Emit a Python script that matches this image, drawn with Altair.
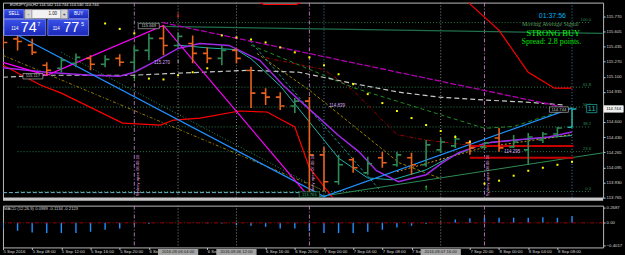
import altair as alt
import pandas as pd

# ---------------------------------------------------------------- data
# bar index 0 = 5 Sep 2016 04:00, one bar = 2 hours (EURJPY H2)
bar_idx = list(range(40))
opens = [115.50, 115.52, 115.45, 115.227, 115.194, 115.249, 115.304, 115.238, 115.304, 115.260,
         115.392, 115.525, 115.447, 115.469, 115.359, 115.304, 115.392, 115.17, 114.919, 114.875,
         114.776, 114.831, 114.236, 113.939, 114.181, 114.038, 114.203, 114.126, 114.203, 114.126,
         114.291, 114.335, 114.368, 114.324, 114.423, 114.324, 114.291, 114.401, 114.467, 114.542]
highs = [115.56, 115.56, 115.52, 115.26, 115.315, 115.359, 115.337, 115.337, 115.348, 115.447,
         115.58, 115.669, 115.591, 115.558, 115.425, 115.447, 115.414, 115.21, 114.974, 114.93,
         114.864, 114.875, 114.324, 114.236, 114.203, 114.214, 114.269, 114.269, 114.258, 114.401,
         114.423, 114.456, 114.401, 114.379, 114.533, 114.456, 114.478, 114.489, 114.544, 114.744]
lows = [115.414, 115.392, 115.34, 115.117, 115.15, 115.205, 115.172, 115.205, 115.216, 115.15,
        115.282, 115.337, 115.425, 115.249, 115.249, 115.227, 115.249, 114.754, 114.787, 114.732,
        114.698, 113.765, 113.829, 113.906, 114.038, 114.016, 114.093, 114.104, 114.016, 114.104,
        114.258, 114.313, 114.236, 114.291, 114.269, 114.313, 114.126, 114.368, 114.434, 114.540]
closes = [115.48, 115.49, 115.37, 115.172, 115.282, 115.315, 115.238, 115.293, 115.26, 115.392,
          115.525, 115.447, 115.547, 115.359, 115.304, 115.392, 115.304, 114.919, 114.875, 114.776,
          114.831, 114.236, 113.939, 114.126, 114.093, 114.137, 114.148, 114.236, 114.126, 114.346,
          114.379, 114.412, 114.313, 114.368, 114.313, 114.379, 114.434, 114.467, 114.533, 114.744]

macd_hist = [-0.10, -0.14, -0.17, -0.18, -0.18, -0.18, -0.157, -0.12, -0.10, -0.03,
             -0.02, 0.005, 0.003, 0.005, -0.005, -0.01, -0.04, -0.05, -0.07, -0.10,
             -0.10, -0.145, -0.18, -0.18, -0.18, -0.157, -0.12, -0.08, -0.05, -0.02,
             0.02, 0.06, 0.08, 0.09, 0.09, 0.09, 0.09, 0.10, 0.09, 0.12]

sar_i = [7, 8, 9, 10, 11, 12, 13, 14, 15, 16, 17, 18, 19, 20, 21, 22, 23, 24, 25, 26, 27, 28, 29,
         30, 31, 32, 33, 34, 35, 36, 37, 38, 39]
sar_p = [115.69, 115.63, 115.58, 115.08, 115.07, 115.117, 115.15, 115.194, 115.558, 115.535,
         115.513, 115.48, 115.425, 115.37, 115.315, 115.227, 115.128, 115.018, 114.908, 114.809,
         114.721, 114.643, 114.566, 114.50, 114.434, 114.379, 113.917, 113.95, 114.005, 114.06,
         114.093, 114.126, 114.159]

# indicator / object lines: (bar index, price)
blue_i, blue_p = [0, 22, 39], [115.646, 113.774, 114.754]
zz_i, zz_p = [0, 3, 11, 21], [115.26, 115.117, 115.669, 113.765]
purple_i = [0, 3, 6, 8, 9, 10.3, 12, 13.5, 15.5, 17.6, 19.2, 20.3, 21.7, 23, 24.4, 25.6, 27.1,
            29, 30.1, 31.2, 33.1, 35.1, 37.4, 39]
purple_p = [115.20, 115.15, 115.117, 115.106, 115.15, 115.26, 115.414, 115.469, 115.447, 115.282,
            115.007, 114.842, 114.64, 114.45, 114.269, 114.06, 113.939, 114.016, 114.148, 114.258,
            114.368, 114.401, 114.434, 114.489]
grey_i = [0, 2.8, 8.9, 11.9, 16.9, 20.3, 23.9, 27.1, 29.9, 33.1, 35.8, 38.5]
grey_p = [115.095, 115.117, 115.117, 115.139, 115.172, 115.15, 115.029, 114.93, 114.875, 114.842,
          114.82, 114.787]
uptr_i, uptr_p = [10.9, 38.7], [115.701, 114.754]
blow_i = [0, 2.6, 4, 8.2, 10.8, 11.7, 13.5, 16.2, 18.1, 20, 21, 22.6]
blow_p = [115.227, 115.007, 114.919, 114.588, 114.566, 114.621, 114.643, 114.721, 114.71,
          114.544, 114.093, 113.762]
bup1_i, bup1_p = [17.6, 17.9, 20.1, 20.4], [115.921, 115.90, 115.90, 115.921]
bup2_i = [31.9, 34, 36, 37.8, 39]
bup2_p = [115.921, 115.613, 115.15, 114.974, 114.974]
gtop_i, gtop_p = [10.8, 41.1], [115.657, 115.580]
glow_i, glow_p = [21.7, 41.1], [113.774, 114.258]
ol1_i, ol1_p = [0, 21.7], [115.337, 113.862]
ol2_i, ol2_p = [17.4, 21, 27.15, 29.9], [115.359, 114.952, 114.148, 113.98]
gd_i, gd_p = [4, 22.4], [115.37, 113.796]
td_i, td_p = [16.9, 25.8], [115.502, 113.851]
dr_i = [18, 22, 24, 26, 27, 29, 32]
dr_p = [115.31, 115.18, 114.95, 114.62, 114.46, 114.40, 114.34]
mteal_i = [12, 14, 16, 17, 19, 21, 23, 25, 26.7, 29, 30.6, 33.1, 36, 39]
mteal_p = [115.45, 115.42, 115.40, 115.30, 115.0, 114.6, 114.2, 113.98, 113.96, 114.07, 114.21,
           114.37, 114.41, 114.45]
mor_i, mor_p = [27, 33, 39], [114.05, 114.32, 114.46]
mgd_i = [17, 20, 24, 28, 33, 35, 39]
mgd_p = [115.45, 115.25, 114.98, 114.78, 114.53, 114.55, 114.76]
cy_i, cy_p = [0, 21], [113.818, 113.818]

fib_levels = [115.700, 114.985, 114.765, 114.545, 114.271, 113.830]
fib_names = ["100.0", "61.8", "50.0", "38.2", "23.6", "0.0"]
fib_start = [9, 1, 1, 1, 1, 1]

red_h = [114.335, 114.203]

vl_i = [9, 12, 16, 21, 22, 30, 33, 39]
vl_kind = ["session", "grid", "grid", "session", "blue", "grid", "session", "blue"]
session_i = [9, 21, 33]
session_txt = ["Sydney open 06.09.16", "Sydney open 07.09.16", "Sydney open 08.09.16"]

# time-axis labels (those at 6 Sep 04:00, 6 Sep 12:00 and 7 Sep 16:00 sit under the date boxes)
x_tick_idx = [0, 2, 4, 6, 8, 10, 14, 18, 20, 22, 24, 26, 28, 32, 34, 36, 38]
x_tick_lab = ["5 Sep 2016", "5 Sep 08:00", "5 Sep 12:00", "5 Sep 16:00", "5 Sep 20:00",
              "6 Sep 00:00", "6 Sep 08:00", "6 Sep 16:00", "6 Sep 20:00", "7 Sep 00:00",
              "7 Sep 04:00", "7 Sep 08:00", "7 Sep 12:00", "7 Sep 20:00", "8 Sep 00:00",
              "8 Sep 04:00", "8 Sep 08:00"]
date_box_i = [12, 16, 30]
date_box_txt = ["2016.09.06 04:00", "2016.09.06 12:00", "2016.09.07 16:00"]
price_ticks = [115.770, 115.605, 115.435, 115.270, 115.100, 114.935, 114.600, 114.430,
               114.265, 114.095, 113.930, 113.765]
macd_ticks = [0.2687, 0.0, -0.4017]

# ---------------------------------------------------------------- layout
W, HM, HD = 603, 196, 42
xs = alt.Scale(domain=[0, 41.13], nice=False, zero=False)
ys = alt.Scale(domain=[113.762, 115.921], nice=False, zero=False)
ds = alt.Scale(domain=[-0.431, 0.302], nice=False, zero=False)
F = "Liberation Sans"
SF = "Liberation Serif"
one = pd.DataFrame({"k": [0.0], "i": [1.0], "p": [115.0]})

AXY = alt.Axis(orient="right", values=price_ticks, format=".3f", title=None)
lab_map = "{" + ",".join("'%d':'%s'" % (v, s) for v, s in zip(x_tick_idx, x_tick_lab)) + "}"
lab_expr = lab_map + "[toString(round(datum.value))]"
AXX = alt.Axis(orient="bottom", values=x_tick_idx, labelExpr=lab_expr, labelAlign="left",
               labelBaseline="top", labelFlush=False, labelOverlap=False, title=None,
               labelPadding=0)
AXD = alt.Axis(orient="right", values=macd_ticks, title=None,
               labelExpr="datum.value == 0 ? '0.00' : format(datum.value, '.4f')")


def X(f):
    return alt.X(f, scale=xs, axis=None, title=None)


def Y(f):
    return alt.Y(f, scale=ys, axis=AXY, title=None)


def XD(f):
    return alt.X(f, scale=xs, axis=AXX, title=None)


def YD(f):
    return alt.Y(f, scale=ds, axis=AXD, title=None)


def ptext(x, y, s, size, color, font=F, align="left", weight="normal", baseline="middle"):
    return alt.Chart(one).mark_text(text=s, fontSize=size, color=color, font=font, align=align,
                                    baseline=baseline, fontWeight=weight).encode(
        x=alt.value(x), y=alt.value(y))


def prect(x1, y1, x2, y2, fill, stroke=None, sw=0.8):
    kw = {"fill": fill}
    if stroke:
        kw.update(stroke=stroke, strokeWidth=sw)
    return alt.Chart(one).mark_rect(**kw).encode(
        x=alt.value(x1), x2=alt.value(x2), y=alt.value(y1), y2=alt.value(y2))


def line(ii, pp, color, width=1.0, dash=None):
    kw = dict(color=color, strokeWidth=width, clip=True)
    if dash:
        kw["strokeDash"] = dash
    return alt.Chart(pd.DataFrame({"i": ii, "p": pp})).mark_line(**kw).encode(
        x=X("i:Q"), y=Y("p:Q"))


L = []

# fib levels
fib = pd.DataFrame({"lv": fib_levels, "nm": fib_names, "s": fib_start, "e": [40.3] * 6})
L.append(alt.Chart(fib).mark_rule(color="#2e8b57", strokeWidth=0.9, strokeDash=[1, 2]).encode(
    x=X("s:Q"), x2="e:Q", y=Y("lv:Q")))
L.append(alt.Chart(fib).mark_text(color="#2e8b57", fontSize=4.2, font=F, align="right", dy=-2.5).encode(
    x=X("e:Q"), y=Y("lv:Q"), text="nm:N"))

# vertical object lines
vl = pd.DataFrame({"i": vl_i, "kind": vl_kind})
vstyle = {"session": ("#b070b0", [4, 2, 1, 2]), "grid": ("#8c8c8c", [1, 2]), "blue": ("#4682b4", [1, 2])}
for kd, (c, d) in vstyle.items():
    L.append(alt.Chart(vl[vl.kind == kd]).mark_rule(color=c, strokeDash=d, strokeWidth=1).encode(x=X("i:Q")))

# diagonal / indicator lines
L.append(line(cy_i, cy_p, "#6fb7c7", 1, [4, 2]))
L.append(line(ol1_i, ol1_p, "#b89a00", 0.8, [3, 2, 1, 2]))
L.append(line(ol2_i, ol2_p, "#c8a000", 0.8, [3, 2]))
L.append(line(gd_i, gd_p, "#2e8b57", 1, [1, 2]))
L.append(line(td_i, td_p, "#20b2aa", 0.8, [3, 2]))
L.append(line(dr_i, dr_p, "#a00000", 1, [4, 2, 1, 2]))
L.append(line(mgd_i, mgd_p, "#228b22", 1, [4, 3]))
L.append(line(gtop_i, gtop_p, "#1f6f4a", 1.3))
L.append(line(glow_i, glow_p, "#2e8b57", 1))
L.append(line(grey_i, grey_p, "#c8c8c8", 1.2, [5, 3]))
L.append(line(uptr_i, uptr_p, "#b000b0", 1.3, [6, 2]))
L.append(line(blow_i, blow_p, "#ff0000", 1.2))
L.append(line(bup1_i, bup1_p, "#ff0000", 1.2))
L.append(line(bup2_i, bup2_p, "#ff0000", 1.2))
L.append(line(mteal_i, mteal_p, "#20b2aa", 1))
L.append(line(mor_i, mor_p, "#d2901e", 1, [2, 2]))
L.append(line(purple_i, purple_p, "#a028e8", 1.5))
L.append(line(blue_i, blue_p, "#1e90ff", 1.3))
L.append(line(zz_i, zz_p, "#ff00ff", 1.2))

rh = pd.DataFrame({"p": red_h, "a": [32, 32], "b": [39.1, 39.1]})
L.append(alt.Chart(rh).mark_rule(color="#c80000", strokeWidth=2).encode(x=X("a:Q"), x2="b:Q", y=Y("p:Q")))

# OHLC bars
bars = pd.DataFrame({"i": bar_idx, "o": opens, "h": highs, "l": lows, "c": closes})
bars["kind"] = ["up" if c > o else "down" for o, c in zip(opens, closes)]
bars.loc[39, "kind"] = "last"
bars["il"] = bars["i"] - 0.3
bars["ir"] = bars["i"] + 0.3
col = alt.Color("kind:N", scale=alt.Scale(domain=["up", "down", "last"],
                                          range=["#2e8b57", "#e8621c", "#20b2aa"]), legend=None)
bb = alt.Chart(bars)
L.append(bb.mark_rule(strokeWidth=1.6, clip=True).encode(x=X("i:Q"), y=Y("l:Q"), y2="h:Q", color=col))
L.append(bb.mark_rule(strokeWidth=1.6, clip=True).encode(x=X("il:Q"), x2="i:Q", y=Y("o:Q"), color=col))
L.append(bb.mark_rule(strokeWidth=1.6, clip=True).encode(x=X("i:Q"), x2="ir:Q", y=Y("c:Q"), color=col))

# parabolic SAR dots
sar = pd.DataFrame({"i": sar_i, "p": sar_p})
L.append(alt.Chart(sar).mark_square(size=4, color="#ffff00", opacity=1).encode(x=X("i:Q"), y=Y("p:Q")))

# arrows
arr = pd.DataFrame({"i": [12, 9, 29, 12], "p": [115.78, 115.085, 113.873, 115.27],
                    "c": ["#ff2020", "#30e030", "#30e030", "#ffffff"],
                    "a": [180, 0, 0, 0], "s": [30, 30, 30, 12]})
for _, r in arr.iterrows():
    L.append(alt.Chart(pd.DataFrame({"i": [r.i], "p": [r.p]})).mark_point(
        shape="arrow", filled=True, color=r.c, size=r.s, angle=int(r.a), opacity=1).encode(
        x=X("i:Q"), y=Y("p:Q")))

# session texts (vertical)
ses = pd.DataFrame({"i": session_i, "t": session_txt, "p": [113.778] * 3})
L.append(alt.Chart(ses).mark_text(angle=270, align="left", baseline="top", dy=1.5, fontSize=4.2,
                                  font=F, color="#e0a0e0").encode(x=X("i:Q"), y=Y("p:Q"), text="t:N"))

# price labels with boxes
boxes = pd.DataFrame({
    "i": [9.99, 2.05, 38.1, 21.0, 40.35, 41.85],
    "p": [115.662, 115.106, 114.737, 113.796, 114.748, 114.744],
    "hw": [0.72, 0.68, 0.65, 0.7, 0.35, 0.66],
    "hh": [0.03, 0.03, 0.03, 0.03, 0.045, 0.036],
    "t": ["115.669", "115.117", "114.744", "113.765", "11", "114.744"],
    "grp": ["g", "g", "g", "n", "t", "w"],
})
boxes["i1"] = boxes.i - boxes.hw
boxes["i2"] = boxes.i + boxes.hw
boxes["p1"] = boxes.p - boxes.hh
boxes["p2"] = boxes.p + boxes.hh
bstyle = {"g": ("#000000", "#b0b0b0", "#c8c8c8", 4.2),
          "n": ("#000000", "#2e8b57", "#3cb371", 4.2),
          "t": ("#000000", "#20b2aa", "#20b2aa", 7.5),
          "w": ("#f0f0f0", "#f0f0f0", "#000000", 4.2)}
for g, (fill, stroke, tc, fs) in bstyle.items():
    sub = boxes[boxes.grp == g]
    L.append(alt.Chart(sub).mark_rect(fill=fill, stroke=stroke, strokeWidth=0.7).encode(
        x=X("i1:Q"), x2="i2:Q", y=Y("p1:Q"), y2="p2:Q"))
    L.append(alt.Chart(sub).mark_text(color=tc, fontSize=fs, font=F).encode(
        x=X("i:Q"), y=Y("p:Q"), text="t:N"))

pink = pd.DataFrame({"i": [10.9, 22.9, 34.9], "p": [115.25, 114.776, 114.269],
                     "t": ["115.270", "114.839", "114.295"]})
L.append(alt.Chart(pink).mark_text(color="#d8a8f8", fontSize=4.5, font=F).encode(
    x=X("i:Q"), y=Y("p:Q"), text="t:N"))

# top-right signal panel
L.append(ptext(552, 13, "01:37:56", 7, "#00b0f0", align="center"))
L.append(ptext(550, 22, "Moving Average Signal", 6, "#5a9a5a", font=SF, align="center"))
L.append(ptext(553, 31, "STRONG BUY", 8.5, "#00ff00", font=SF, align="center"))
L.append(ptext(551, 40, "Spread: 2.8 points.", 8, "#00e000", font=SF, align="center"))

# one-click trading panel
blue_grad = alt.Gradient(gradient="linear", stops=[alt.GradientStop(color="#3a50e8", offset=0),
                                                    alt.GradientStop(color="#1a28b8", offset=1)],
                         x1=0, x2=0, y1=0, y2=1)
L.append(ptext(7, 0.8, "EURJPY,pro,H2  114.542 114.744 114.540 114.744", 4, "#e0e0e0", baseline="top"))
L.append(prect(1, 7, 21, 16, blue_grad, "#8090ff"))
L.append(ptext(11, 11.5, "SELL", 4.5, "#ffffff", align="center"))
L.append(prect(22, 7, 65, 16, "#f2f2f2", "#9090a0"))
L.append(prect(22, 7, 29, 16, "#d4d4d4", "#9090a0"))
L.append(prect(58, 7, 65, 16, "#d4d4d4", "#9090a0"))
L.append(ptext(25.5, 11.5, "-", 5, "#202020", align="center"))
L.append(ptext(61.5, 11.5, "+", 5, "#202020", align="center"))
L.append(ptext(50, 11.5, "1.00", 4.5, "#202020", align="center"))
L.append(prect(66, 7, 86, 16, blue_grad, "#8090ff"))
L.append(ptext(76, 11.5, "BUY", 4.5, "#ffffff", align="center"))
L.append(prect(1, 17, 43, 33, blue_grad, "#8090ff"))
L.append(prect(45, 17, 86, 33, blue_grad, "#8090ff"))
L.append(ptext(12, 27, "114", 4.5, "#ffffff", align="center"))
L.append(ptext(26, 25.5, "74", 14.5, "#ffffff", align="center"))
L.append(ptext(36, 21.5, "7", 5, "#ffffff", align="center"))
L.append(ptext(53.5, 27, "114", 4.5, "#ffffff", align="center"))
L.append(ptext(68.5, 25.5, "77", 14.5, "#ffffff", align="center"))
L.append(ptext(80, 21.5, "5", 5, "#ffffff", align="center"))

# separator band between the panels
L.append(prect(0, HM, W, HM + 3, "#c8c8c8"))

main = alt.layer(*L).properties(width=W, height=HM)

# ---------------------------------------------------------------- MACD panel
hist = pd.DataFrame({"i": bar_idx, "v": macd_hist, "z": [0.0] * 40})
M = []
M.append(alt.Chart(hist).mark_rule(color="#1e90ff", strokeWidth=1.4, clip=True).encode(
    x=XD("i:Q"), y=YD("z:Q"), y2="v:Q"))
M.append(alt.Chart(one).mark_rule(color="#a00000", strokeDash=[4, 2, 1, 2], strokeWidth=1).encode(
    y=YD("k:Q")))
for kd in ["session", "grid"]:
    c, d = vstyle[kd]
    M.append(alt.Chart(vl[vl.kind == kd]).mark_rule(color=c, strokeDash=d, strokeWidth=1).encode(
        x=XD("i:Q")))
M.append(ptext(1, 3.5, "MACD (12,26,9) 0.0989 -0.1134 -0.2123", 4.2, "#d0d0d0"))
db = pd.DataFrame({"i": date_box_i, "t": date_box_txt})
db["a"] = db["i"] - 1.38
db["b"] = db["i"] + 1.38
M.append(alt.Chart(db).mark_rect(fill="#a4a4a4").encode(
    x=XD("a:Q"), x2="b:Q", y=alt.value(HD + 1.5), y2=alt.value(HD + 8)))
M.append(alt.Chart(db).mark_text(color="#202020", fontSize=4.2, font=F).encode(
    x=XD("i:Q"), y=alt.value(HD + 4.8), text="t:N"))

macd = alt.layer(*M).properties(width=W, height=HD)

chart = alt.vconcat(main, macd, spacing=3).configure(
    background="#000000", padding={"left": 2, "top": 1, "right": 0, "bottom": 0}
).configure_view(stroke="#b8b8b8", strokeWidth=1).configure_axis(
    labelFont=F, labelFontSize=4.3, labelColor="#d8d8d8", tickColor="#c8c8c8", tickSize=2,
    labelPadding=1, domain=False, grid=False)

chart.save("out.html", embed_options={"renderer": "svg", "actions": False})
